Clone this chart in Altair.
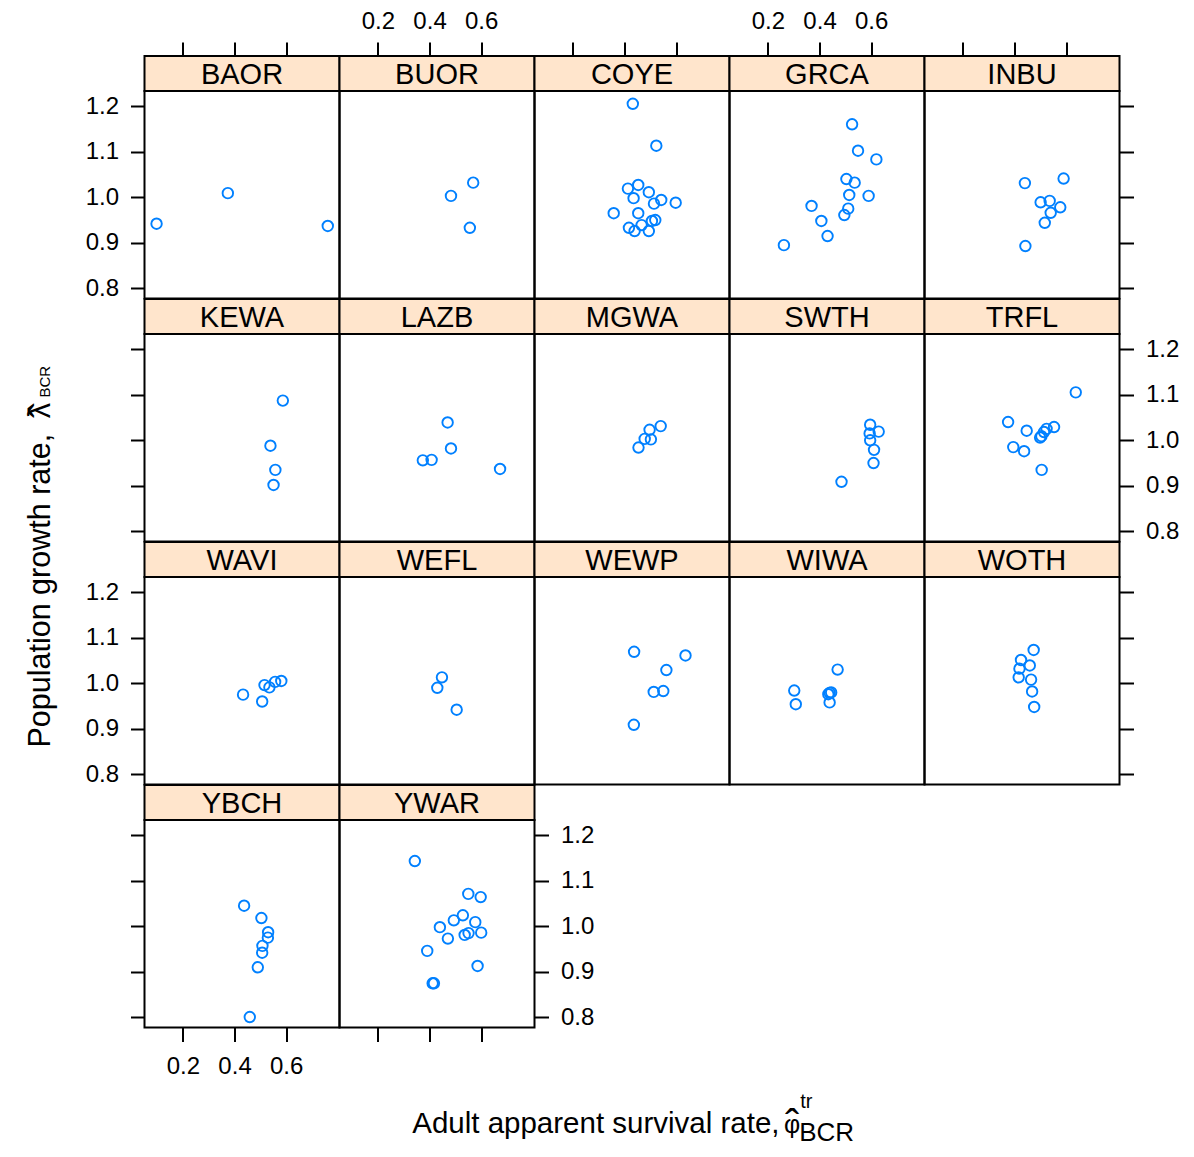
import altair as alt
import pandas as pd

FONT = "Liberation Sans"
XDOM = [0.0513, 0.8064]
YDOM = [0.778, 1.233]
PW = 195
PH = 207.5
SH = 35
BORDER = 2
POINT_COLOR = "#0080ff"
STRIP_FILL = "#ffe5cc"

x_ticks = [0.2, 0.4, 0.6]
y_ticks = [0.8, 0.9, 1.0, 1.1, 1.2]

layout_rows = [
    ["BAOR", "BUOR", "COYE", "GRCA", "INBU"],
    ["KEWA", "LAZB", "MGWA", "SWTH", "TRFL"],
    ["WAVI", "WEFL", "WEWP", "WIWA", "WOTH"],
    ["YBCH", "YWAR"],
]

BAOR_phi = [0.098, 0.374, 0.761]
BAOR_lam = [0.942, 1.009, 0.937]
BUOR_phi = [0.483, 0.569, 0.556]
BUOR_lam = [1.003, 1.032, 0.933]
COYE_phi = [0.432, 0.523, 0.413, 0.453, 0.494, 0.435, 0.542, 0.514, 0.598,
            0.358, 0.453, 0.519, 0.506, 0.466, 0.417, 0.439, 0.494]
COYE_lam = [1.205, 1.113, 1.019, 1.027, 1.011, 0.998, 0.994, 0.986, 0.988,
            0.965, 0.965, 0.950, 0.948, 0.939, 0.933, 0.926, 0.926]
GRCA_phi = [0.526, 0.549, 0.620, 0.504, 0.536, 0.515, 0.590, 0.369, 0.511,
            0.496, 0.407, 0.431, 0.262]
GRCA_lam = [1.160, 1.102, 1.083, 1.040, 1.032, 1.005, 1.003, 0.981, 0.975,
            0.961, 0.948, 0.915, 0.895]
INBU_phi = [0.440, 0.590, 0.501, 0.536, 0.577, 0.540, 0.517, 0.442]
INBU_lam = [1.031, 1.041, 0.989, 0.992, 0.978, 0.966, 0.944, 0.893]
KEWA_phi = [0.587, 0.539, 0.558, 0.551]
KEWA_lam = [1.087, 0.988, 0.935, 0.902]
LAZB_phi = [0.470, 0.483, 0.374, 0.408, 0.673]
LAZB_lam = [1.039, 0.982, 0.956, 0.957, 0.937]
MGWA_phi = [0.540, 0.497, 0.478, 0.502, 0.454]
MGWA_lam = [1.031, 1.023, 1.003, 1.002, 0.984]
SWTH_phi = [0.596, 0.629, 0.594, 0.596, 0.611, 0.609, 0.485]
SWTH_lam = [1.034, 1.019, 1.015, 1.000, 0.979, 0.950, 0.909]
TRFL_phi = [0.637, 0.375, 0.447, 0.553, 0.524, 0.514, 0.504, 0.499, 0.395,
            0.437, 0.505]
TRFL_lam = [1.105, 1.040, 1.021, 1.029, 1.025, 1.018, 1.009, 1.006, 0.985,
            0.976, 0.935]
WAVI_phi = [0.433, 0.507, 0.516, 0.535, 0.557, 0.581]
WAVI_lam = [0.975, 0.960, 0.996, 0.991, 1.003, 1.005]
WEFL_phi = [0.448, 0.430, 0.505]
WEFL_lam = [1.013, 0.990, 0.942]
WEWP_phi = [0.437, 0.636, 0.562, 0.513, 0.550, 0.436]
WEWP_lam = [1.069, 1.061, 1.029, 0.981, 0.983, 0.909]
WIWA_phi = [0.470, 0.302, 0.308, 0.439, 0.445, 0.439, 0.434]
WIWA_lam = [1.030, 0.984, 0.954, 0.979, 0.980, 0.958, 0.976]
WOTH_phi = [0.474, 0.425, 0.459, 0.419, 0.416, 0.464, 0.468, 0.476]
WOTH_lam = [1.073, 1.051, 1.039, 1.032, 1.013, 1.008, 0.982, 0.948]
YBCH_phi = [0.437, 0.504, 0.530, 0.529, 0.508, 0.507, 0.490, 0.459]
YBCH_lam = [1.045, 1.018, 0.987, 0.975, 0.957, 0.942, 0.910, 0.801]
YWAR_phi = [0.343, 0.550, 0.598, 0.529, 0.494, 0.577, 0.440, 0.551, 0.536,
            0.600, 0.471, 0.391, 0.586, 0.412, 0.417]
YWAR_lam = [1.143, 1.071, 1.064, 1.024, 1.013, 1.009, 0.998, 0.985, 0.981,
            0.986, 0.973, 0.946, 0.913, 0.875, 0.875]

SERIES = {
    "BAOR": (BAOR_phi, BAOR_lam), "BUOR": (BUOR_phi, BUOR_lam),
    "COYE": (COYE_phi, COYE_lam), "GRCA": (GRCA_phi, GRCA_lam),
    "INBU": (INBU_phi, INBU_lam), "KEWA": (KEWA_phi, KEWA_lam),
    "LAZB": (LAZB_phi, LAZB_lam), "MGWA": (MGWA_phi, MGWA_lam),
    "SWTH": (SWTH_phi, SWTH_lam), "TRFL": (TRFL_phi, TRFL_lam),
    "WAVI": (WAVI_phi, WAVI_lam), "WEFL": (WEFL_phi, WEFL_lam),
    "WEWP": (WEWP_phi, WEWP_lam), "WIWA": (WIWA_phi, WIWA_lam),
    "WOTH": (WOTH_phi, WOTH_lam), "YBCH": (YBCH_phi, YBCH_lam),
    "YWAR": (YWAR_phi, YWAR_lam),
}

TICK_FS = 24
STRIP_FS = 29
XLAB_FS = 29.5
YLAB_FS = 30.5

# page geometry of the panel grid (used to place the free-standing labels)
GX0, GY0 = 144.3, 56.0
ROW_H = SH + PH

common_axis = dict(title=None, grid=False, domain=False, ticks=True,
                   tickSize=14, tickColor="black", tickWidth=2,
                   labelFontSize=TICK_FS, labelColor="black", labelFont=FONT,
                   labelFlush=False, labelOverlap=False, format=".1f")


def x_axis(orient, labels):
    pad = 9 if orient == "top" else 13
    return alt.Axis(orient=orient, values=x_ticks, labels=labels,
                    labelPadding=pad, **common_axis)


def y_axis(orient, labels):
    return alt.Axis(orient=orient, values=y_ticks, labels=labels,
                    labelPadding=12, **common_axis)


xscale = alt.Scale(domain=XDOM, nice=False, zero=False)
yscale = alt.Scale(domain=YDOM, nice=False, zero=False)
one = pd.DataFrame({"a": [0]})


def txt(text, x, y, size, align="left", angle=0, baseline="alphabetic"):
    return alt.Chart(one).mark_text(
        font=FONT, fontSize=size, color="black", align=align,
        baseline=baseline, angle=angle
    ).encode(x=alt.value(x), y=alt.value(y), text=alt.value(text))


def page_labels(ox, oy):
    """Axis titles given in page coordinates, shifted to a cell origin."""
    return [
        # y title
        txt("Population growth rate,", 50 - ox, 747 - oy, YLAB_FS, angle=270),
        txt("\u03bb", 50 - ox, 410 - oy, YLAB_FS, align="center", angle=270),
        txt("\u02c6", 60 - ox, 410 - oy, 44, align="center", angle=270),
        txt("BCR", 50 - ox, 397 - oy, 15, angle=270),
        # x title
        txt("Adult apparent survival rate,", 412 - ox, 1132 - oy, XLAB_FS),
        txt("\u03c6", 792 - ox, 1132 - oy, 25, align="center"),
        txt("\u02c6", 792 - ox, 1138 - oy, 42, align="center"),
        txt("tr", 800 - ox, 1107 - oy, 20),
        txt("BCR", 799 - ox, 1140 - oy, 26),
        # invisible anchor fixing the left page edge
        alt.Chart(one).mark_rule(opacity=0).encode(
            x=alt.value(8 - ox), y=alt.value(0), y2=alt.value(5)),
    ]


def strip_chart(name, r, c):
    df = pd.DataFrame({"xc": [(XDOM[0] + XDOM[1]) / 2], "lab": [name]})
    if r == 0:
        xenc = alt.X("xc:Q", scale=xscale, axis=x_axis("top", c in (1, 3)))
    else:
        xenc = alt.X("xc:Q", scale=xscale, axis=None)
    return alt.Chart(df).mark_text(
        font=FONT, fontSize=STRIP_FS, color="black", baseline="middle", dy=1
    ).encode(
        x=xenc, y=alt.value(SH / 2), text="lab:N"
    ).properties(
        width=PW, height=SH,
        view=alt.ViewBackground(fill=STRIP_FILL, stroke="black", strokeWidth=BORDER),
    )


def panel_chart(name, r, c, ncol):
    phi, lam = SERIES[name]
    df = pd.DataFrame({"phi": phi, "lam": lam})
    if r == len(layout_rows) - 1:
        xenc = alt.X("phi:Q", scale=xscale, axis=x_axis("bottom", c == 0))
    else:
        xenc = alt.X("phi:Q", scale=xscale, axis=None)
    if c == 0:
        yenc = alt.Y("lam:Q", scale=yscale, axis=y_axis("left", r in (0, 2)))
    elif c == ncol - 1:
        yenc = alt.Y("lam:Q", scale=yscale, axis=y_axis("right", r in (1, 3)))
    else:
        yenc = alt.Y("lam:Q", scale=yscale, axis=None)
    pts = alt.Chart(df).mark_point(
        shape="circle", filled=False, color=POINT_COLOR, size=110,
        strokeWidth=1.9, opacity=1
    ).encode(x=xenc, y=yenc)
    layers = [pts]
    if r == 1 and c == 0:
        layers += page_labels(GX0, GY0 + ROW_H + SH)
    return alt.layer(*layers).properties(
        width=PW, height=PH,
        view=alt.ViewBackground(stroke="black", strokeWidth=BORDER),
    )


def filler(h):
    return alt.Chart(one).mark_text().encode(
        x=alt.value(0), y=alt.value(0), text=alt.value("")
    ).properties(width=PW, height=h, view=alt.ViewBackground(strokeWidth=0))


cells = []
for r, names in enumerate(layout_rows):
    for c in range(5):
        cells.append(strip_chart(names[c], r, c) if c < len(names) else filler(SH))
    for c in range(5):
        cells.append(panel_chart(names[c], r, c, len(names)) if c < len(names) else filler(PH))

chart = alt.concat(*cells, columns=5, spacing=0, bounds="flush").properties(
    padding={"left": -1.5, "top": 0, "right": 0, "bottom": 0}
).configure_view(strokeWidth=0).configure_axis(labelFont=FONT)

chart.save("out.html", embed_options={"renderer": "svg", "actions": False})
